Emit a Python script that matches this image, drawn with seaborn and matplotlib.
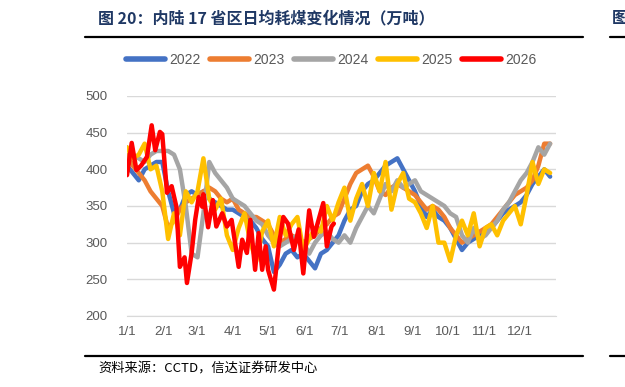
import numpy as np
import pandas as pd
import matplotlib
matplotlib.use("Agg")
import matplotlib.pyplot as plt
import seaborn as sns

days = list(range(0, 361, 5))

y2022 = [405, 395, 385, 400, 405, 410, 410, 370, 340, 345, 365, 370, 365, 370, 360,
         355, 350, 345, 345, 340, 335, 330, 320, 305, 295, 260, 270, 285, 290, 280,
         285, 275, 265, 285, 290, 300, 310, 330, 345, 350, 370, 380, 385, 395, 405,
         410, 415, 400, 385, 370, 350, 335, 345, 335, 330, 320, 305, 290, 300, 305,
         310, 315, 320, 330, 340, 345, 350, 355, 365, 380, 390, 400, 390]

y2023 = [420, 405, 395, 385, 370, 360, 350, 320, 330, 345, 355, 360, 365, 370, 375,
         370, 360, 355, 360, 345, 340, 335, 335, 330, 325, 310, 300, 305, 310, 305,
         300, 305, 310, 320, 325, 335, 340, 360, 380, 395, 400, 405, 390, 370, 365,
         375, 380, 375, 370, 365, 355, 345, 350, 345, 335, 320, 310, 300, 305, 310,
         315, 320, 325, 335, 345, 355, 365, 370, 375, 385, 405, 435, 435]

y2024 = [430, 420, 415, 410, 420, 425, 425, 425, 420, 400, 350, 285, 280, 340, 410,
         395, 385, 375, 360, 355, 350, 340, 330, 325, 310, 300, 295, 300, 305, 310,
         300, 285, 300, 310, 315, 305, 300, 310, 300, 320, 335, 350, 340, 360, 380,
         370, 385, 375, 380, 385, 370, 365, 360, 355, 350, 340, 335, 310, 300, 320,
         305, 310, 320, 330, 345, 355, 370, 385, 395, 410, 430, 420, 435]

y2025 = [430, 415, 420, 435, 400, 405, 370, 305, 340, 310, 370, 355, 370, 415, 360,
         345, 360, 310, 290, 320, 340, 300, 275, 315, 330, 295, 335, 310, 325, 335,
         290, 305, 320, 315, 350, 330, 355, 375, 330, 360, 380, 350, 395, 370, 410,
         345, 380, 395, 360, 355, 340, 320, 350, 300, 300, 275, 310, 330, 310, 340,
         295, 320, 325, 310, 330, 340, 350, 325, 365, 410, 380, 400, 395]

days_2026 = [0, 4, 8, 12, 17, 21, 24, 28, 30, 34, 38, 42, 45, 49, 51, 55, 58, 61, 64,
             65, 69, 73, 76, 81, 85, 89, 95, 98, 102, 105, 109, 112, 115, 118, 120,
             125, 129, 133, 137, 142, 146, 150, 155, 159, 163, 167, 170, 174, 176]
y2026 = [392, 436, 399, 405, 417, 460, 426, 451, 448, 368, 377, 349, 267, 280, 245,
         286, 331, 362, 349, 366, 321, 358, 322, 340, 322, 331, 267, 304, 286, 331,
         263, 313, 263, 295, 263, 236, 295, 335, 326, 290, 318, 258, 344, 308, 331,
         354, 295, 322, 326]

years = ["2022", "2023", "2024", "2025", "2026"]
colors = ["#4472C4", "#ED7D31", "#A5A5A5", "#FFC000", "#FF0000"]
month_days = [0, 31, 59, 90, 120, 151, 181, 212, 243, 273, 304, 334]
month_labels = ["1/1", "2/1", "3/1", "4/1", "5/1", "6/1", "7/1", "8/1", "9/1",
                "10/1", "11/1", "12/1"]

frames = []
for yr, dd, vv in zip(years,
                      [days, days, days, days, days_2026],
                      [y2022, y2023, y2024, y2025, y2026]):
    frames.append(pd.DataFrame({"day": dd, "value": vv, "year": yr}))
df = pd.concat(frames, ignore_index=True)

sns.set_style("white")
plt.rcParams["font.family"] = ["Liberation Sans", "Noto Sans CJK SC", "DejaVu Sans"]

fig = plt.figure(figsize=(6.25, 3.87), dpi=100)
ax = fig.add_axes([0.2032, 0.1835, 0.6864, 0.5685])

sns.lineplot(data=df, x="day", y="value", hue="year", palette=colors,
             estimator=None, sort=False, linewidth=3.2, ax=ax, legend=False)

ax.set_xlim(0, 365)
ax.set_ylim(200, 500)
ax.set_yticks(range(200, 501, 50))
ax.set_xticks(month_days + [365])
ax.set_xticklabels(month_labels + [""])
ax.set_xlabel("")
ax.set_ylabel("")
ax.grid(axis="y", color="#D9D9D9", linewidth=1)
ax.set_axisbelow(True)
for s in ["left", "right", "top"]:
    ax.spines[s].set_visible(False)
ax.spines["bottom"].set_color("#D9D9D9")
ax.tick_params(axis="x", length=4, color="#D9D9D9", labelsize=9.5,
               labelcolor="#595959", pad=3)
ax.tick_params(axis="y", length=0, labelsize=9.5, labelcolor="#595959", pad=14)

handles = ax.get_lines()[:5]
fig.legend(handles, years, loc="center", bbox_to_anchor=(0.53, 0.845), ncol=5,
           frameon=False, fontsize=10, labelcolor="#595959", handlelength=2.8,
           handletextpad=0.3, columnspacing=0.7)
for h in fig.legends[0].legend_handles:
    h.set_linewidth(4)
    h.set_solid_capstyle("round")

# title, rules and source note
fig.text(98 / 625, 1 - 18 / 387, "图 20：内陆 17 省区日均耗煤变化情况（万吨）",
         family=["Noto Sans CJK SC", "DejaVu Sans"], fontsize=11.5,
         fontweight="bold", color="#1F3864", va="center", ha="left")
fig.add_artist(plt.Line2D([85 / 625, 583 / 625], [1 - 37 / 387, 1 - 37 / 387],
                          color="black", linewidth=1.6))
fig.add_artist(plt.Line2D([85 / 625, 583 / 625], [1 - 356 / 387, 1 - 356 / 387],
                          color="black", linewidth=1.6))
fig.add_artist(plt.Line2D([610 / 625, 1.0], [1 - 37 / 387, 1 - 37 / 387],
                          color="black", linewidth=1.6))
fig.add_artist(plt.Line2D([610 / 625, 1.0], [1 - 356 / 387, 1 - 356 / 387],
                          color="black", linewidth=1.6))
fig.text(98 / 625, 1 - 369 / 387, "资料来源：CCTD，信达证券研发中心",
         family=["Noto Sans CJK SC", "DejaVu Sans"], fontsize=9.5,
         style="italic", color="black", va="center", ha="left")
fig.text(612 / 625, 1 - 18 / 387, "图", family=["Noto Sans CJK SC"],
         fontsize=11.5, fontweight="bold", color="#1F3864", va="center", ha="left")

fig.savefig("out.png", dpi=100)
